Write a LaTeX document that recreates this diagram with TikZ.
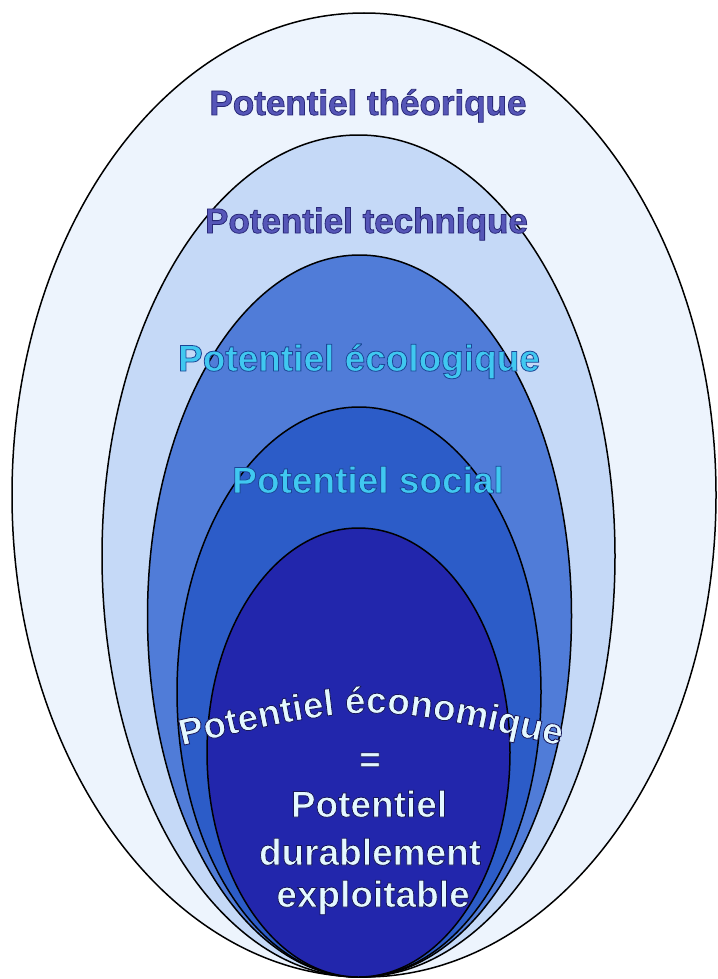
\documentclass[tikz,border=0pt]{standalone}
\usepackage{fontspec}
\newfontfamily\lab{Liberation Sans Bold}
\usetikzlibrary{decorations.text}
\definecolor{c1}{RGB}{237,244,253}
\definecolor{c2}{RGB}{197,217,247}
\definecolor{c3}{RGB}{80,124,216}
\definecolor{c4}{RGB}{44,92,200}
\definecolor{c5}{RGB}{34,38,172}
\definecolor{tA}{RGB}{86,86,184}
\definecolor{tB}{RGB}{64,200,240}
\definecolor{tC}{RGB}{228,248,255}
% outline: text render mode 2 (fill + stroke) with a dark stroke colour
\newcommand\outA{\special{pdf:code 2 Tr 0.8 w 0.16 0.16 0.47 RG}}
\newcommand\outB{\special{pdf:code 2 Tr 0.8 w 0.11 0.27 0.59 RG}}
\newcommand\outC{\special{pdf:code 2 Tr 0.8 w 0.09 0.09 0.35 RG}}
\newcommand\outoff{\special{pdf:code 0 Tr}}
\tikzset{
  ell/.style={draw=black, line width=1.5pt},
  lbl/.style={anchor=base, inner sep=0pt}
}
\begin{document}
\begin{tikzpicture}[x=1pt,y=-1pt]
\useasboundingbox[fill=white] (0,0) rectangle (717,979);
\draw[ell, fill=c1] (364,495) ellipse [x radius=352pt, y radius=482pt];
\draw[ell, fill=c2] (358.5,556) ellipse [x radius=256.5pt, y radius=421pt];
\draw[ell, fill=c3] (359.5,616) ellipse [x radius=212pt, y radius=361pt];
\draw[ell, fill=c4] (359,692) ellipse [x radius=182pt, y radius=285pt];
\draw[ell, fill=c5] (358.5,752.5) ellipse [x radius=151.5pt, y radius=224.5pt];

\node[lbl, text=tA, font=\lab\fontsize{35}{35}\selectfont] (t1) at (368,115) {\outA Potentiel théorique\outoff};
\node[lbl, text=tA, font=\lab\fontsize{35}{35}\selectfont] (t2) at (366.5,233) {\outA Potentiel technique\outoff};
\node[lbl, text=tB, font=\lab\fontsize{37}{37}\selectfont] (t3) at (359,371) {\outB Potentiel écologique\outoff};
\node[lbl, text=tB, font=\lab\fontsize{37}{37}\selectfont] (t4) at (368,493) {\outB Potentiel social\outoff};

\coordinate (aL) at (180,746);
\coordinate (aC) at (371,702);
\coordinate (aR) at (562,746);
\path[decorate, decoration={text along path, text align=center, text color=tC,
  text={|\lab\fontsize{37}{37}\selectfont\outC|Potentiel économique}}] (aL) .. controls (aC) .. (aR);

\node[lbl, text=tC, font=\lab\fontsize{37}{37}\selectfont] (t6) at (370,772) {\outC=\outoff};
\node[lbl, text=tC, font=\lab\fontsize{37}{37}\selectfont] (t7) at (369,817) {\outC Potentiel\outoff};
\node[lbl, text=tC, font=\lab\fontsize{37}{37}\selectfont] (t8) at (370,865) {\outC durablement\outoff};
\node[lbl, text=tC, font=\lab\fontsize{37}{37}\selectfont] (t9) at (373,907) {\outC exploitable\outoff};
\end{tikzpicture}
\end{document}
